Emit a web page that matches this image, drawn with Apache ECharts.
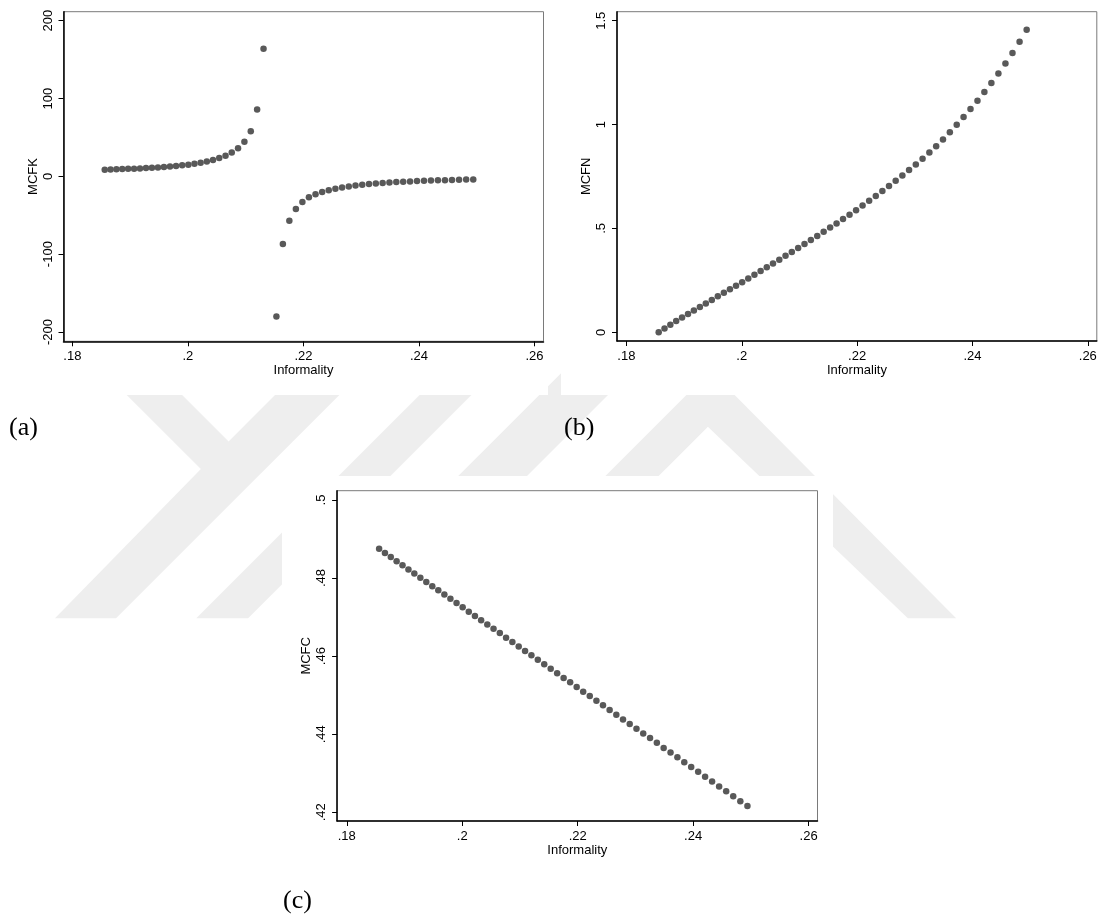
<!DOCTYPE html>
<html>
<head>
<meta charset="utf-8">
<script src="https://cdn.jsdelivr.net/npm/echarts@6/dist/echarts.min.js"></script>
<style>
  html, body { margin: 0; padding: 0; background: #ffffff; }
  #chart { width: 1102px; height: 922px; }
</style>
</head>
<body>
<div id="chart"></div>
<script>
// Informality grid shared by the three panels
const informality = [
  0.18560, 0.18661, 0.18762, 0.18863, 0.18965, 0.19068, 0.19170, 0.19274, 0.19377, 0.19481,
  0.19585, 0.19690, 0.19795, 0.19901, 0.20007, 0.20113, 0.20220, 0.20327, 0.20434, 0.20542,
  0.20651, 0.20759, 0.20868, 0.20978, 0.21088, 0.21198, 0.21309, 0.21420, 0.21532, 0.21644,
  0.21756, 0.21869, 0.21982, 0.22095, 0.22209, 0.22324, 0.22438, 0.22553, 0.22669, 0.22785,
  0.22901, 0.23018, 0.23135, 0.23253, 0.23371, 0.23489, 0.23608, 0.23727, 0.23846, 0.23966,
  0.24087, 0.24207, 0.24328, 0.24450, 0.24572, 0.24694, 0.24817, 0.24940
];

// (a) MCFK: no value at the pole
const mcfk = [
  8.6, 8.8, 9.0, 9.3, 9.6, 9.9, 10.2, 10.6, 11.0, 11.5,
  12.0, 12.6, 13.3, 14.1, 15.0, 16.1, 17.4, 19.0, 21.0, 23.5,
  26.5, 30.5, 36, 44.5, 58, 86, 164, null, -180, -87,
  -57, -42, -33, -27, -23, -20, -17.8, -15.9, -14.3, -12.9,
  -11.8, -10.8, -9.9, -9.2, -8.5, -7.9, -7.4, -6.9, -6.5, -6.1,
  -5.8, -5.4, -5.1, -4.9, -4.6, -4.4, -4.2, -4.0
];

// (b) MCFN
const mcfn = [
  0.000, 0.018, 0.036, 0.054, 0.071, 0.088, 0.105, 0.122, 0.139, 0.156,
  0.173, 0.190, 0.207, 0.224, 0.241, 0.259, 0.277, 0.295, 0.313, 0.331,
  0.349, 0.368, 0.387, 0.406, 0.425, 0.444, 0.464, 0.484, 0.504, 0.524,
  0.545, 0.566, 0.588, 0.610, 0.633, 0.656, 0.680, 0.704, 0.729, 0.755,
  0.781, 0.808, 0.836, 0.865, 0.895, 0.928, 0.963, 0.999, 1.036, 1.075,
  1.115, 1.157, 1.200, 1.246, 1.294, 1.345, 1.399, 1.457
];

// (c) MCFC
const mcfc = [
  0.4875, 0.4864, 0.4854, 0.4843, 0.4833, 0.4822, 0.4812, 0.4801, 0.4790, 0.4779,
  0.4769, 0.4758, 0.4747, 0.4736, 0.4725, 0.4714, 0.4703, 0.4692, 0.4681, 0.4670,
  0.4659, 0.4647, 0.4636, 0.4625, 0.4613, 0.4602, 0.4591, 0.4579, 0.4568, 0.4556,
  0.4544, 0.4533, 0.4521, 0.4509, 0.4498, 0.4486, 0.4474, 0.4462, 0.4450, 0.4438,
  0.4426, 0.4414, 0.4402, 0.4390, 0.4378, 0.4365, 0.4353, 0.4341, 0.4328, 0.4316,
  0.4304, 0.4291, 0.4279, 0.4266, 0.4254, 0.4241, 0.4228, 0.4216
];

// Tick positions and their printed labels
const xTicks = [0.18, 0.20, 0.22, 0.24, 0.26];
const xTickLabels = ['.18', '.2', '.22', '.24', '.26'];
const mcfkTicks = [-200, -100, 0, 100, 200];
const mcfkTickLabels = ['-200', '-100', '0', '100', '200'];
const mcfnTicks = [0, 0.5, 1, 1.5];
const mcfnTickLabels = ['0', '.5', '1', '1.5'];
const mcfcTicks = [0.42, 0.44, 0.46, 0.48, 0.50];
const mcfcTickLabels = ['.42', '.44', '.46', '.48', '.5'];

const FONT = "'Liberation Sans', Arial, Helvetica, sans-serif";
const SERIF = "'Liberation Serif', 'Times New Roman', serif";
const MARK = '#595959';
const WATERMARK = '#eeeeee';

function tickFormatter(ticks, labels) {
  return function (v) {
    const i = ticks.findIndex(function (t) { return Math.abs(t - v) < 1e-9; });
    return i >= 0 ? labels[i] : '';
  };
}

function points(ys) {
  const out = [];
  informality.forEach(function (x, i) {
    if (ys[i] !== null) out.push([x, ys[i]]);
  });
  return out;
}

// plot boxes: [left, top, width, height]
const panels = [
  { box: [63.5, 11.7, 480, 329.6], xMin: 0.17846, xMax: 0.26156, yMin: -212, yMax: 211.6,
    yName: 'MCFK', yTicks: mcfkTicks, yLabels: mcfkTickLabels, values: mcfk },
  { box: [617, 11.7, 479.8, 329.3], xMin: 0.17837, xMax: 0.26156, yMin: -0.0419, yMax: 1.5433,
    yName: 'MCFN', yTicks: mcfnTicks, yLabels: mcfnTickLabels, values: mcfn },
  { box: [337.1, 490.7, 480.4, 330.3], xMin: 0.17832, xMax: 0.26154, yMin: 0.41777, yMax: 0.50238,
    yName: 'MCFC', yTicks: mcfcTicks, yLabels: mcfcTickLabels, values: mcfc }
];

const axisText = { color: '#000', fontFamily: FONT, fontSize: 13 };

const grid = panels.map(function (p) {
  return {
    left: p.box[0], top: p.box[1], width: p.box[2], height: p.box[3],
    show: true, backgroundColor: '#ffffff', borderColor: '#7a7a7a', borderWidth: 1,
    containLabel: false
  };
});

const xAxis = panels.map(function (p, i) {
  return {
    type: 'value', gridIndex: i, min: p.xMin, max: p.xMax, position: 'bottom',
    name: 'Informality', nameLocation: 'middle', nameGap: 21,
    nameTextStyle: axisText,
    axisLine: { show: true, onZero: false, lineStyle: { color: '#000', width: 1.5 } },
    axisTick: { show: true, length: 5, customValues: xTicks, lineStyle: { color: '#000', width: 1 } },
    axisLabel: Object.assign({ customValues: xTicks, margin: 9,
      formatter: tickFormatter(xTicks, xTickLabels) }, axisText),
    splitLine: { show: false }
  };
});

const yAxis = panels.map(function (p, i) {
  return {
    type: 'value', gridIndex: i, min: p.yMin, max: p.yMax, position: 'left',
    name: p.yName, nameLocation: 'middle', nameGap: 24,
    nameTextStyle: axisText,
    axisLine: { show: true, onZero: false, lineStyle: { color: '#000', width: 1.5 } },
    axisTick: { show: true, length: 5, customValues: p.yTicks, lineStyle: { color: '#000', width: 1 } },
    axisLabel: Object.assign({ customValues: p.yTicks, margin: 9, rotate: 90,
      formatter: tickFormatter(p.yTicks, p.yLabels) }, axisText),
    splitLine: { show: false }
  };
});

const series = panels.map(function (p, i) {
  return {
    type: 'scatter', xAxisIndex: i, yAxisIndex: i,
    data: points(p.values),
    symbol: 'circle', symbolSize: 6.5,
    itemStyle: { color: MARK, opacity: 1 },
    emphasis: { disabled: true },
    silent: true
  };
});

// faint logo bands in the page background
function band(pts) {
  return { type: 'polygon', z: -20, silent: true, shape: { points: pts }, style: { fill: WATERMARK } };
}
function cover(x, y, w, h) {
  return { type: 'rect', z: -10, silent: true, shape: { x: x, y: y, width: w, height: h }, style: { fill: '#ffffff' } };
}
function caption(text, x, y) {
  return { type: 'text', z: 50, silent: true, x: x, y: y,
    style: { text: text, fill: '#000', font: '26px ' + SERIF, textVerticalAlign: 'middle' } };
}

const graphic = [
  band([[126.8, 395], [182.1, 395], [228.6, 441.5], [275, 395], [339.3, 395], [116, 618.3], [55, 618.3], [200.9, 469.1]]),
  band([[419.6, 395], [471.4, 395], [248.1, 618.3], [196.3, 618.3]]),
  band([[564.3, 370], [633, 370], [384.7, 618.3], [316, 618.3]]),
  band([[686.4, 395], [734.6, 395], [956.1, 618.3], [907.9, 618.3], [707.9, 426.7], [516.3, 618.3], [463.1, 618.3]]),
  cover(0, 0, 548, 395),
  cover(561, 0, 541, 395),
  cover(282, 476, 551, 446),
  caption('(a)', 9, 428),
  caption('(b)', 564, 428),
  caption('(c)', 283, 901)
];

const chart = echarts.init(document.getElementById('chart'), null, { renderer: 'canvas' });
chart.setOption({
  animation: false,
  backgroundColor: '#ffffff',
  grid: grid,
  xAxis: xAxis,
  yAxis: yAxis,
  series: series,
  graphic: graphic
});
</script>
</body>
</html>
